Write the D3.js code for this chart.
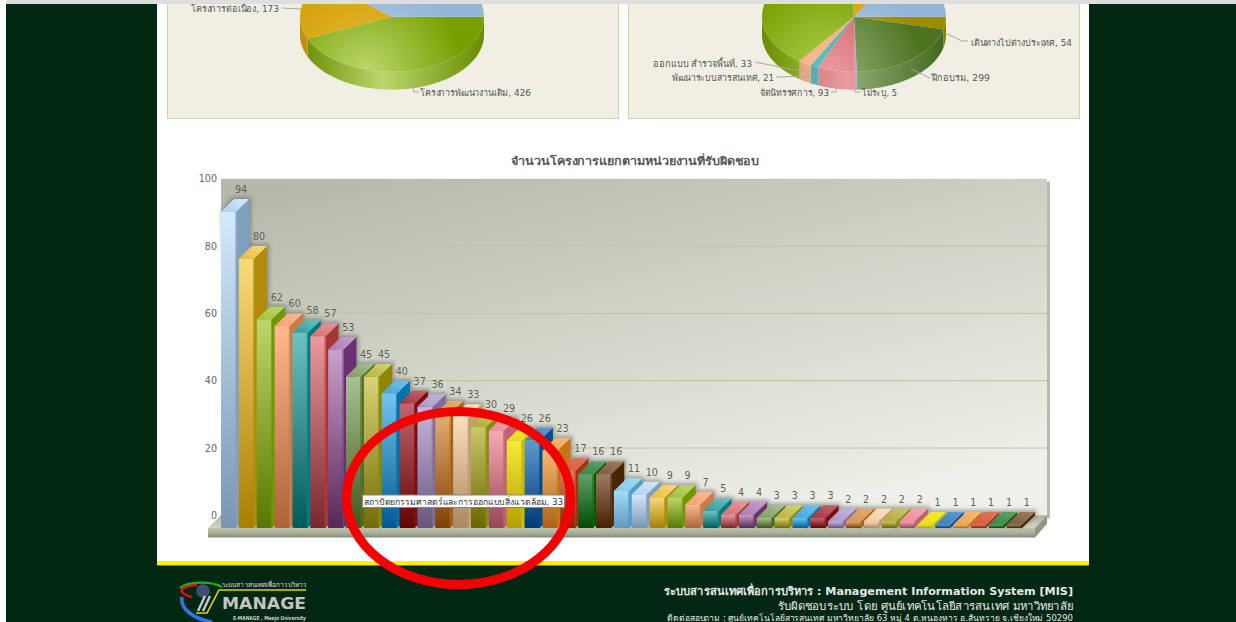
<!DOCTYPE html>
<html lang="th">
<head>
<meta charset="utf-8">
<script src="https://cdn.jsdelivr.net/npm/d3@7"></script>
<style>
html,body{margin:0;padding:0;background:#fff;overflow:hidden}
svg{display:block}
text{font-family:"DejaVu Sans","Noto Sans",sans-serif}
</style>
</head>
<body>
<svg id="c" width="1236" height="622"></svg>
<script>
const barValues=[94,80,62,60,58,57,53,45,45,40,37,36,34,33,30,29,26,26,23,17,16,16,11,10,9,9,7,5,4,4,3,3,3,3,2,2,2,2,2,1,1,1,1,1,1];
const barTop=["#d3e9fc","#fad978","#bdd76a","#feb98f","#6dc2c3","#ec989c","#c9a0ce","#a9c292","#d7d477","#74c4f0","#c2666f","#c7b6de","#e6ae76","#fcdfbd","#cbc86a","#f6abb7","#f6ea3a","#5e9ad0","#f6b872","#e2765c","#61a26b","#9e7d62","#a2daf6"];
const barBottom=["#7896b2","#a97f03","#587800","#ad6238","#005a5c","#7a262d","#572758","#41561c","#736c06","#005b92","#650303","#66567e","#804000","#aa8662","#6a6600","#984654","#b4a000","#003a76","#ac6216","#862206","#004c00","#462000","#5f9cc0"];
const barSide=["#80a0bf","#b28c08","#6f9800","#c97b48","#007b7e","#a63636","#6b3073","#4b6c21","#8c8600","#0073ac","#7d0b11","#7f6b9d","#a9610f","#c59b70","#8b8910","#c16171","#c9bd00","#004b8e","#c57518","#a93110","#005d00","#482400","#4f9dc8"];
const barCap=["#b4d0ea","#e8bc3e","#9cc33c","#f2a272","#2e9c9e","#d66e72","#a97cb0","#7d9d60","#b8b438","#3da6dc","#a8323c","#ab97c8","#d5964e","#f2cda4","#acaa38","#ea8898","#e8dc10","#3a7ebc","#eca44e","#d25c3e","#3a8444","#7e5a3e","#84c8ec"];
const yTicks=[0,20,40,60,80,100];
const leftPieNames=["โครงการพัฒนางานเดิม","โครงการต่อเนื่อง","อื่น ๆ"];
const leftPieValues=[426,173,380];
const rightPieNames=["เดินทางไปต่างประเทศ","ฝึกอบรม","ไม่ระบุ","จัดนิทรรศการ","พัฒนาระบบสารสนเทศ","ออกแบบ สำรวจพื้นที่","ก่อสร้าง","สัมมนา","วิจัย"];
const rightPieValues=[54,299,5,93,21,33,568,125,242];
const leftPieColors=["#76a000","#d6a20c","#94b6d6"];
const leftPieLight=["#bcd66e","#e4b83a","#b8d0e6"];
const rightPieColors=["#9a8e00","#4b7420","#b48ac0","#c95a60","#3ea6a8","#f2a877","#76a000","#d6a20c","#94b6d6"];
const rightPieLight=["#b8ac2a","#93b07a","#c8a6d0","#eb9ba0","#68c0c2","#f6bc94","#b2cf52","#e4b83a","#b8d0e6"];
const tooltipText="สถาปัตยกรรมศาสตร์และการออกแบบสิ่งแวดล้อม, 33";
const chartTitle="จำนวนโครงการแยกตามหน่วยงานที่รับผิดชอบ";
const footerLines=["ระบบสารสนเทศเพื่อการบริหาร : Management Information System [MIS]","รับผิดชอบระบบ โดย ศูนย์เทคโนโลยีสารสนเทศ มหาวิทยาลัย","ติดต่อสอบถาม : ศูนย์เทคโนโลยีสารสนเทศ มหาวิทยาลัย 63 หมู่ 4 ต.หนองหาร อ.สันทราย จ.เชียงใหม่ 50290"];

const svg=d3.select("#c"), defs=svg.append("defs");
function lin(id,stops,x1=0,y1=0,x2=0,y2=1){
  const g=defs.append("linearGradient").attr("id",id).attr("x1",x1).attr("y1",y1).attr("x2",x2).attr("y2",y2);
  stops.forEach(([o,c])=>g.append("stop").attr("offset",o).attr("stop-color",c));
  return `url(#${id})`;
}
const blur=defs.append("filter").attr("id","sh").attr("x","-40%").attr("y","-40%").attr("width","180%").attr("height","180%");
blur.append("feGaussianBlur").attr("stdDeviation",2.2);

// page
svg.append("rect").attr("x",6).attr("y",4).attr("width",1230).attr("height",618).attr("fill","#022813");
svg.append("rect").attr("x",157).attr("y",4).attr("width",932).attr("height",558).attr("fill","#fff");
svg.append("rect").attr("x",157).attr("y",561).attr("width",932).attr("height",4).attr("fill","#fff000");
svg.append("rect").attr("x",157).attr("y",565).attr("width",932).attr("height",1).attr("fill","#7a7a10");

// pies
function drawPie(px,cx,cy,names,values,colors,lights,start,labels,idp){
  svg.append("rect").attr("x",px+.5).attr("y",-10).attr("width",451).attr("height",128.5).attr("fill","#f1efe3").attr("stroke","#d9cfa3");
  const rx=92,ry=55,depth=18;
  const arcs=d3.pie().sort(null).startAngle(start).endAngle(start+2*Math.PI)(values);
  const gp=svg.append("g");
  const pt=a=>[cx+rx*Math.sin(a),cy-ry*Math.cos(a)];
  arcs.forEach((d,i)=>{
    const lo=Math.max(d.startAngle,Math.PI/2),hi=Math.min(d.endAngle,3*Math.PI/2);
    if(hi<=lo)return;
    const n=40,top=d3.range(n+1).map(k=>pt(lo+(hi-lo)*k/n)),bot=top.map(p=>[p[0],p[1]+depth]).reverse();
    const f=lin(idp+"w"+i,[[0,d3.color(colors[i]).darker(.35)],[.45,lights[i]],[1,d3.color(colors[i]).darker(.35)]],0,0,1,0);
    defs.select("#"+idp+"w"+i).attr("gradientUnits","userSpaceOnUse").attr("x1",cx-rx).attr("x2",cx+rx).attr("y1",0).attr("y2",0);
    gp.append("path").attr("d",d3.line()([...top,...bot])+"Z").attr("fill",f);
  });
  arcs.forEach((d,i)=>{
    const g=defs.append("radialGradient").attr("id",idp+"t"+i).attr("gradientUnits","userSpaceOnUse").attr("cx",cx-25).attr("cy",cy+55).attr("r",95);
    g.append("stop").attr("offset",0).attr("stop-color",lights[i]);
    g.append("stop").attr("offset",1).attr("stop-color",colors[i]);
    const n=60,pts=d3.range(n+1).map(k=>pt(d.startAngle+(d.endAngle-d.startAngle)*k/n));
    gp.append("path").attr("d",d3.line()([[cx,cy],...pts])+"Z").attr("fill",`url(#${idp}t${i})`);
  });
  labels.forEach(l=>{
    svg.append("path").attr("d",d3.line()(l.line)).attr("fill","none").attr("stroke","#a8a8a0");
    svg.append("text").attr("x",l.x).attr("y",l.y).attr("font-size",9.2).attr("fill","#555")
      .attr("textLength",l.w).attr("lengthAdjust","spacingAndGlyphs")
      .text(`${names[l.i]}, ${values[l.i]}`);
  });
}
drawPie(167,392,16.7,leftPieNames,leftPieValues,leftPieColors,leftPieLight,Math.PI/2,[
 {i:0,x:420,y:96,w:111,line:[[411,80],[414,92],[419,92]]},
 {i:1,x:191,y:12,w:88,line:[[282,8],[301,9]]}
],"l");
drawPie(628,854,16.7,rightPieNames,rightPieValues,rightPieColors,rightPieLight,Math.PI/2,[
 {i:0,x:971,y:46,w:101,line:[[945,33],[962,41],[968,41]]},
 {i:1,x:932,y:81,w:58,line:[[911,69],[930,78]]},
 {i:2,x:862,y:96,w:35,line:[[855,90],[855,92],[861,92]]},
 {i:3,x:760,y:96,w:69,line:[[836,80],[836,92],[831,92]]},
 {i:4,x:672,y:81,w:102,line:[[776,77],[815,76]]},
 {i:5,x:653,y:67,w:99,line:[[755,62],[805,72]]}
],"r");

// bar chart
const x=d3.scaleBand().domain(d3.range(barValues.length)).range([221,1022]).paddingInner(0.145).paddingOuter(0);
const y=d3.scaleLinear().domain([0,100]).range([528,191.5]);
const dx=13,dy=12.7,bw=x.bandwidth();
const wallL=221,wallR=1047,wallT=y(100)-dy,wallB=y(0)-dy;
svg.append("rect").attr("x",wallR).attr("y",wallT+3).attr("width",3).attr("height",wallB-wallT).attr("fill","#b5bcaa");
svg.append("rect").attr("x",wallL).attr("y",wallT).attr("width",wallR-wallL).attr("height",wallB-wallT)
  .attr("fill",lin("wall",[[0,"#b5b9ac"],[.45,"#cfd3c6"],[1,"#eef0e9"]],0.1,0,0.7,1));
svg.append("g").selectAll("line").data(yTicks.slice(1,-1)).join("line")
  .attr("x1",wallL).attr("x2",wallR).attr("y1",d=>y(d)-dy).attr("y2",d=>y(d)-dy).attr("stroke","#b7c6a0");
svg.append("g").attr("transform",`translate(${wallL-4},${-dy})`)
  .call(d3.axisLeft(y).tickValues(yTicks).tickSize(0).tickPadding(0))
  .call(g=>g.select(".domain").remove())
  .call(g=>g.selectAll("text").attr("font-size",9.6).attr("fill","#666").style("font-family","'DejaVu Sans',sans-serif"));

// floor
const fL=208,fR=1035,fB=537.5,fT=y(0);
svg.append("path").attr("d",d3.line()([[fL,fT],[wallL,fT-dy],[wallR,fT-dy],[fR,fT]])+"Z").attr("fill",lin("ft",[[0,"#aeb39e"],[1,"#d3d7c6"]]));
svg.append("path").attr("d",d3.line()([[fR,fT],[wallR,fT-dy],[wallR,fB-dy-1],[fR,fB]])+"Z").attr("fill","#8d9a80");
svg.append("rect").attr("x",fL).attr("y",fT).attr("width",fR-fL).attr("height",fB-fT).attr("fill",lin("ff",[[0,"#bfc4b0"],[.55,"#a8ae98"],[1,"#7f8772"]]));

// shadows behind the bars
const shadow=svg.append("g").attr("filter","url(#sh)").attr("opacity",.5);
shadow.selectAll("path").data(barValues).join("path").attr("fill","#555")
  .attr("d",(v,i)=>d3.line()([[x(i)+bw,y(0)],[x(i)+bw+dx+2,y(0)-dy],[x(i)+bw+dx+2,y(v)-dy-2],[x(i)+dx-2,y(v)-dy-2],[x(i),y(v)]])+"Z");

const bars=svg.append("g").selectAll("g").data(barValues).join("g");
bars.each(function(v,i){
  const g=d3.select(this),c=i%barTop.length,X=x(i),Y=y(v),B=y(0);
  g.append("path").attr("d",d3.line()([[X+bw,Y],[X+bw+dx,Y-dy],[X+bw+dx,B-dy],[X+bw,B]])+"Z").attr("fill",barSide[c]);
  g.append("path").attr("d",d3.line()([[X,Y],[X+dx,Y-dy],[X+bw+dx,Y-dy],[X+bw,Y]])+"Z")
   .attr("fill",lin("cap"+i,[[0,barTop[c]],[1,barCap[c]]],1,0,0,1));
  g.append("rect").attr("x",X).attr("y",Y).attr("width",bw).attr("height",B-Y)
   .attr("fill",lin("bar"+i,[[0,barTop[c]],[1,barBottom[c]]]));
  g.append("rect").attr("x",X+bw-1).attr("y",Y).attr("width",1).attr("height",B-Y).attr("fill",barSide[c]).attr("opacity",.7);
});
svg.append("g").selectAll("text").data(barValues).join("text")
  .attr("x",(v,i)=>x(i)+bw/2+dx-.5).attr("y",v=>y(v)-dy-6).attr("text-anchor","middle")
  .attr("font-size",9.6).attr("fill","#5f5f55").text(d=>d);

svg.append("text").attr("x",511).attr("y",165).attr("font-size",11).attr("font-weight","bold").attr("fill","#555")
  .attr("textLength",248).attr("lengthAdjust","spacingAndGlyphs").text(chartTitle);

// tooltip
svg.append("rect").attr("x",362.5).attr("y",495).attr("width",202).attr("height",12.5).attr("fill","#fff").attr("stroke","#7d857a");
svg.append("text").attr("x",364).attr("y",504.5).attr("font-size",8.8).attr("fill","#333")
  .attr("textLength",199).attr("lengthAdjust","spacingAndGlyphs").text(tooltipText);

// footer logo
const logo=svg.append("g");
logo.append("path").attr("d","M222 587C212 581 188 581 180 588").attr("fill","none").attr("stroke","#22b022").attr("stroke-width",2.2);
logo.append("path").attr("d","M197 585C182 586 174 592 192 597").attr("fill","none").attr("stroke","#d81414").attr("stroke-width",2.4);
logo.append("path").attr("d","M182 597C180 610 195 619 212 622").attr("fill","none").attr("stroke","#2a78e0").attr("stroke-width",3.5);
logo.append("circle").attr("cx",203).attr("cy",591).attr("r",6.8).attr("fill","#3e4e74");
logo.append("path").attr("d","M306 590L219 590L207 613L196 613").attr("fill","none").attr("stroke","#e6d400").attr("stroke-width",1.6);
logo.append("path").attr("d","M205 596L198 611M210 596L203 611").attr("fill","none").attr("stroke","#c8c8c8").attr("stroke-width",2.4);
logo.append("text").attr("x",222).attr("y",609).attr("font-size",16).attr("font-weight","bold").attr("fill","#c4c4c4").attr("textLength",84).attr("lengthAdjust","spacingAndGlyphs").text("MANAGE");
logo.append("text").attr("x",222).attr("y",587).attr("font-size",6.5).attr("fill","#ddd").attr("textLength",84).attr("lengthAdjust","spacingAndGlyphs").text("ระบบสารสนเทศเพื่อการบริหาร");
logo.append("text").attr("x",233).attr("y",620).attr("font-size",5.6).attr("font-weight","bold").attr("fill","#ccc").attr("textLength",73).attr("lengthAdjust","spacingAndGlyphs").text("E-MANAGE , Maejo University");

// footer text
const fs=[11,11,8.6],fy=[595,610,620.5],fw=["bold","normal","normal"],fx=[664,778,667],fl=[409,295,406];
svg.append("g").selectAll("text").data(footerLines).join("text")
 .attr("x",(d,i)=>fx[i]).attr("y",(d,i)=>fy[i]).attr("font-size",(d,i)=>fs[i]).attr("font-weight",(d,i)=>fw[i]).attr("fill","#e8e8e8")
 .attr("textLength",(d,i)=>fl[i]).attr("lengthAdjust","spacingAndGlyphs").text(d=>d);

// grey bar on top & annotation
svg.append("rect").attr("x",6).attr("y",0).attr("width",1230).attr("height",4).attr("fill","#dedede");
svg.append("ellipse").attr("cx",458.5).attr("cy",498).attr("rx",112).attr("ry",86.5).attr("fill","none").attr("stroke","#f50000").attr("stroke-width",9);
</script>
</body>
</html>
